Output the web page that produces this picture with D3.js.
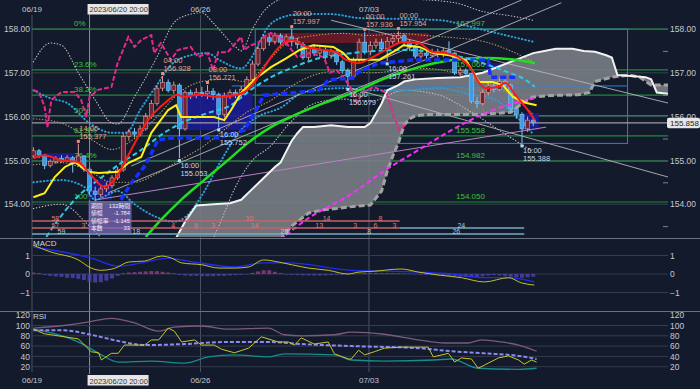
<!DOCTYPE html>
<html>
<head>
<meta charset="utf-8">
<script src="https://cdnjs.cloudflare.com/ajax/libs/d3/7.8.5/d3.min.js"></script>
<style>
  body { margin: 0; background: #131a2b; }
  svg { display: block; }
  text { font-family: "Liberation Sans", "Noto Sans CJK JP", sans-serif; }
</style>
</head>
<body>
<svg id="chart" width="700" height="389"></svg>
<script>
// ---- data: 4h candles, index 0 = 06/19 first bar ----
const candles = [
[155.10,155.30,155.05,155.22],[155.22,155.26,155.05,155.12],[155.12,155.15,154.80,154.88],[154.88,155.02,154.84,154.98],
[154.98,155.10,154.92,155.05],[155.05,155.12,154.95,155.00],[155.00,155.12,154.96,155.06],[155.06,155.10,154.72,154.92],
[154.92,155.38,154.88,155.10],[155.10,155.12,154.74,154.80],[154.80,154.84,154.20,154.30],[154.30,154.40,154.05,154.22],
[154.22,154.42,154.15,154.35],[154.35,154.50,154.28,154.42],[154.42,154.66,154.36,154.60],[154.60,154.85,154.55,154.78],
[154.78,155.62,154.74,155.55],[155.55,155.72,155.45,155.65],[155.65,155.74,155.52,155.60],[155.60,155.80,155.55,155.72],
[155.72,156.08,155.68,156.00],[156.00,156.38,155.95,156.30],[156.30,156.72,156.25,156.65],[156.65,156.93,156.58,156.78],
[156.78,156.85,156.55,156.60],[156.60,156.80,156.52,156.72],[156.72,156.76,155.05,155.72],[155.72,156.60,155.68,156.55],
[156.55,156.62,156.40,156.48],[156.48,156.65,156.42,156.55],[156.55,156.68,156.45,156.52],[156.52,156.72,156.40,156.58],
[156.58,156.65,156.38,156.50],[156.50,156.55,155.75,156.05],[156.05,156.55,155.98,156.48],[156.48,156.62,156.40,156.55],
[156.55,156.62,156.42,156.50],[156.50,156.70,156.45,156.62],[156.62,156.92,156.58,156.85],[156.85,157.28,156.80,157.20],
[157.20,157.62,157.15,157.55],[157.55,157.88,157.50,157.80],[157.80,157.88,157.62,157.72],[157.72,157.92,157.65,157.85],
[157.85,157.90,157.58,157.70],[157.70,157.88,157.62,157.82],[157.82,158.00,157.60,157.72],[157.72,157.80,157.55,157.65],
[157.65,157.70,157.30,157.35],[157.35,157.62,157.28,157.55],[157.55,157.65,157.38,157.45],[157.45,157.60,157.35,157.52],
[157.52,157.58,157.30,157.40],[157.40,157.55,157.32,157.48],[157.48,157.52,157.18,157.25],[157.25,157.30,156.98,157.05],
[157.05,157.10,156.68,156.92],[156.92,157.35,156.85,157.30],[157.30,157.78,157.25,157.70],[157.70,157.94,157.42,157.48],
[157.48,157.72,157.40,157.62],[157.62,157.78,157.55,157.70],[157.70,157.78,157.48,157.55],[157.55,157.82,157.26,157.72],
[157.72,157.85,157.65,157.78],[157.78,157.95,157.70,157.85],[157.85,157.90,157.62,157.70],[157.70,157.75,157.50,157.58],
[157.58,157.62,157.32,157.38],[157.38,157.55,157.30,157.45],[157.45,157.52,157.32,157.40],[157.40,157.55,157.35,157.48],
[157.48,157.55,157.35,157.42],[157.42,157.58,157.36,157.50],[157.50,157.72,157.38,157.45],[157.45,157.48,156.95,157.00],
[157.00,157.12,156.92,157.05],[157.05,157.10,156.90,156.98],[156.98,157.00,156.30,156.35],[156.35,156.45,156.20,156.30],
[156.30,156.62,156.25,156.55],[156.55,156.78,156.48,156.70],[156.70,156.78,156.55,156.62],[156.62,156.88,156.58,156.80],
[156.80,156.85,156.62,156.72],[156.72,156.75,156.12,156.18],[156.18,156.22,155.95,156.05],[156.05,156.10,155.39,155.72],
[155.72,156.00,155.65,155.92],[155.92,156.00,155.78,155.86]
];
const lastPrice = 155.858;

// [bar index, price]
const redLine = [[0,155.05],[2,155.12],[5,155.0],[8,154.96],[10,154.7],[12.6,154.4],[14.4,154.55],[17.4,155.24],[20.4,155.92],[23.3,156.3],[25.7,156.5],[26.8,156.45],[29.3,156.5],[32.9,156.45],[36.4,156.5],[38.7,156.68],[40.5,157.0],[42.3,157.36],[44.6,157.68],[46,157.75],[48.5,157.6],[52,157.52],[53.8,157.48],[55.6,157.3],[57.9,157.22],[60.4,157.36],[62.7,157.52],[65.7,157.7],[68.6,157.68],[71,157.48],[73.4,157.45],[75.7,157.36],[78.1,157.06],[79.2,156.8],[80.5,156.65],[82.8,156.68],[84,156.77],[85.8,156.5],[87.6,156.22],[89.3,155.92]];
const yellowLine = [[0,154.16],[2,154.25],[3.8,154.62],[5.6,154.85],[7.4,154.96],[9.8,154.74],[11.6,154.71],[15.1,154.74],[16.9,154.94],[19.2,155.08],[21,155.63],[24,156.15],[25.4,156.26],[26.3,155.99],[32.2,155.99],[34,155.92],[35.2,156.15],[37,156.54],[39.3,156.84],[42.3,157.13],[45,157.33],[47.4,157.52],[49.8,157.63],[53.4,157.59],[55.2,157.45],[56.3,157.3],[61.6,157.3],[64.6,157.52],[65.9,157.63],[68.7,157.59],[71.2,157.45],[74.1,157.4],[77,157.29],[78.4,157.0],[79.3,156.79],[81.8,156.79],[83.6,156.72],[85.4,156.45],[87.8,156.31],[89.6,156.26]];
const cyanDash = [[2.3,153.25],[4.4,153.64],[8.5,154.25],[11.5,154.55],[15.6,154.94],[19.2,155.24],[23.3,155.63],[26.3,155.85],[31,156.08],[35.2,156.26],[38.7,156.61],[42.3,156.9],[45.8,157.1],[49.7,157.29],[56.8,157.45],[65.7,157.52],[71.6,157.47],[78.2,157.29],[83.5,157.06],[87.6,156.84],[89.3,156.68]];
const blueDash = [[15.6,154.1],[17.4,154.48],[19.7,154.85],[21,155.16],[22.2,155.47],[24.5,155.51],[32.9,155.51],[37.5,155.69],[40,156.22],[41,156.49],[45.8,156.54],[50.8,156.6],[52.6,156.84],[56.8,156.88],[57.9,157.02],[61.5,157.22],[67.5,157.29],[81,157.29],[81.4,156.9],[86,156.9]];
const greenLine = [[20,153.25],[22.7,153.64],[26.3,154.1],[30.4,154.55],[34.6,155.0],[38.2,155.4],[42.3,155.76],[45.8,155.99],[50.8,156.26],[56.8,156.54],[62.7,156.88],[68.6,157.13],[74.6,157.29],[80.5,157.34],[86.3,157.29],[89.3,157.22]];
const magentaDash = [[40,152.95],[44.4,153.25],[48.5,153.64],[56.8,154.25],[62.7,154.78],[68.6,155.24],[74.6,155.7],[80.5,156.08],[86.3,156.33],[89.3,156.42]];
const chikou = [[0,156.6],[1,156.56],[2,156.22],[2.5,155.76],[3.2,156.38],[5,156.56],[7.3,156.56],[8.5,156.38],[9.4,155.99],[10,156.45],[11.5,156.61],[13.9,156.68],[15,157.22],[16.9,157.82],[18,157.59],[19.2,157.75],[21,157.86],[21.5,157.45],[22.7,157.68],[24.5,157.29],[25.7,157.52],[28,157.59],[29.3,157.36],[31,157.45],[32,157.06],[32.9,157.47],[34.6,157.47],[37,157.82],[37.5,157.52],[38.7,157.63],[40,157.68],[41,157.82],[42.3,157.91],[44.6,157.75],[46,157.52],[47,157.36],[49.2,157.45],[51.7,157.36],[52.8,157.0],[54,157.06],[55.3,156.88],[56.4,156.68],[57.6,156.33],[58.8,156.56],[60.6,156.68],[62.9,156.54],[64.2,155.99],[65.2,155.69],[66.5,155.85]];

// bollinger style bands
const whiteUp = [[0,157.25],[3,157.68],[5,157.63],[8,157.0],[11,156.38],[14,155.85],[15,155.83],[18,156.45],[22,157.36],[25,158.14],[27,158.3],[30,158.37],[32,158.14],[36,157.59],[37,157.5],[39,158.0],[41,158.4],[45,158.7],[55,158.75],[65,158.7],[75,158.6],[80,158.4],[85,158.3],[89,158.2]];
const whiteLow = [[0,153.9],[5,154.0],[10,153.5],[14,153.0],[20,152.6],[30,152.8],[33,153.5],[36,154.4],[39,155.0],[42,155.3],[46,155.9],[50,156.3],[55,156.4],[60,156.35],[66,156.6],[72,156.5],[78,156.1],[84,155.6],[89,155.2]];
const cyanUp = [[0,156.6],[3,156.42],[6,156.31],[10,155.85],[14,155.63],[16.5,155.63],[19,156.15],[22,156.72],[24.5,157.18],[28,157.4],[31,157.45],[33,157.3],[37,157.1],[39.6,157.52],[41.4,157.98],[44,158.25],[47.6,158.34],[53,158.34],[58,158.25],[65.4,158.23],[72.5,158.2],[77.8,158.05],[83,157.89],[89.3,157.7]];
const cyanLow = [[0,154.5],[5,154.55],[9,154.4],[11,154.1],[13,154.2],[15,154.3],[18,154.0],[22,153.7],[25,153.6],[27,153.7],[30,154.2],[33,154.9],[37,155.7],[40,156.0],[44,156.2],[48,156.55],[55,156.65],[60,156.6],[66,156.6],[72,156.65],[78,156.5],[82,156.4],[86,156.0],[89,155.6]];
const khakiUp = [[0,155.95],[5,155.85],[10,155.5],[14,155.25],[18,155.5],[22,156.0],[26,156.55],[30,156.8],[34,156.85],[38,156.8],[42,157.3],[46,157.75],[50,157.85],[55,157.9],[60,157.85],[65,157.9],[70,157.85],[75,157.8],[80,157.72],[85,157.5],[89,157.25]];
const khakiLow = [[0,154.9],[5,154.95],[10,154.75],[14,154.5],[18,154.5],[22,154.7],[26,155.0],[30,155.3],[34,155.7],[38,156.1],[42,156.35],[46,156.7],[50,156.95],[55,157.05],[60,157.0],[65,157.05],[70,157.1],[75,157.0],[80,156.8],[85,156.5],[89,156.05]];

// ichimoku cloud (shifted 26 bars forward)
const spanA = [[24,152.9],[27,153.6],[29,153.97],[32,154.0],[35,154.02],[37,154.1],[39,154.35],[41,154.6],[43,154.85],[44,154.95],[45,155.2],[46,155.45],[47,155.62],[48,155.76],[50,155.76],[53,155.8],[56,155.76],[59,155.76],[60,155.85],[62,156.3],[63,156.6],[65,156.72],[66,156.8],[68,156.85],[72,156.88],[76,156.9],[80,157.0],[83,157.15],[86,157.3],[89,157.45],[91,157.5],[93,157.55],[96,157.55],[98,157.5],[100,157.48],[102,157.4],[103,157.35],[104,156.95],[107,156.92],[109,156.9],[110,156.85],[111,156.55],[113,156.52]];
const spanB = [[24,152.4],[35,152.8],[40,153.0],[44,153.2],[46,153.5],[49,153.8],[52,153.88],[54,153.9],[57,153.95],[60,153.98],[62,154.3],[63,154.75],[64,155.1],[65,155.4],[66,155.8],[67,155.95],[68,156.02],[70,156.05],[75,156.05],[80,156.05],[85,156.1],[87,156.3],[89,156.45],[92,156.48],[97,156.5],[99,156.55],[100,156.8],[103,156.9],[106,156.95],[108,156.9],[110,156.72],[113,156.72]];

// trend lines: [[bar, price], [bar, price]]
const trendLines = [
  [[13.3,154.26],[94,158.6]],
  [[17.4,154.87],[86.9,158.66]],
  [[53,158.2],[113,156.31]],
  [[56.6,156.65],[113,154.62]]
];
const lavenderLine = [[11.2,154.1],[91.3,155.76]];

// fibonacci retracement
const fibHigh = 157.997, fibLow = 154.050;
const fibLevels = [0, 0.236, 0.382, 0.5, 0.618, 0.764, 1];
const fibNames = ["0%", "23.6%", "38.2%", "50%", "61.8%", "76.4%", "100%"];
const fibValues = ["157.997", "157.066", "156.489", "156.024", "155.558", "154.982", "154.050"];

// marked highs / lows: [bar, price, time, kind]
const extremes = [
  [8,155.377,"14:00","h"],[23,156.928,"04:00","h"],[31,156.721,"08:00","h"],[46,157.997,"20:00","h"],
  [59,157.936,"00:00","h"],[65,157.954,"00:00","h"],[26,155.053,"16:00","l"],[33,155.752,"16:00","l"],
  [56,156.679,"16:00","l"],[63,157.261,"16:00","l"],[87,155.388,"16:00","l"]
];

// shaded zones: [bar from, bar to, price top, price bottom]
const navyZones = [[26.2,39,156.54,155.69],[9.8,14,154.55,154.1],[2,7.3,155.17,155.0],[80.6,86.5,157.22,156.31],[86.5,90,156.08,155.69]];
const redZone = [41.3,70.4,157.91,157.68];
const boxRange = [39.5,105.8,157.997,155.388];
const blueLevel = [35.3,105.8,156.70];

// bar count rows at the bottom of the price panel: [bar, row, text]
const countLabels = [
  [3.9,0,"58"],[27.3,0,"9"],[38.5,0,"10"],[52.2,0,"14"],[61.8,0,"8"],
  [3.9,1,"57"],[8.9,1,"3"],[24.9,1,"4"],[29,1,"6"],[32,1,"3"],[39.4,1,"14"],[50.9,1,"13"],[57.3,1,"3"],[60.9,1,"6"],[64.3,1,"3"],[76.2,1,"24"],
  [5,2,"59"],[18.3,2,"18"],[44.7,2,"25"],[59.8,2,"8"],[75.3,2,"26"]
];

// MACD
const macdLine = [[0,1.55],[3,1.2],[8,0.76],[10.3,0.32],[12,0.2],[14.4,0.3],[17,0.65],[19.8,0.7],[22.8,0.97],[24.6,0.86],[26.4,0.6],[30,0.5],[33,0.32],[35.8,0.32],[38.3,0.38],[41,0.76],[43.6,0.65],[46,0.5],[49,0.32],[52.5,0.2],[56,0.0],[57.9,0.1],[60.7,0.15],[65.5,0.27],[68.6,0.1],[72,-0.05],[76.2,-0.2],[80.3,-0.43],[84.6,-0.2],[86.9,-0.48],[89.2,-0.6]];
const signalLine = [[0,1.46],[10.3,0.86],[15.1,0.43],[19.2,0.6],[24,0.86],[27.6,0.7],[35.8,0.38],[41,0.6],[45.4,0.6],[56.6,0.2],[62.5,0.16],[68.6,0.1],[74.4,0],[80.3,-0.2],[84.6,-0.2],[89.2,-0.43]];
const macdHist = [0.08,0.05,
  -0.06,-0.1,-0.13,-0.16,-0.2,-0.22,-0.26,-0.32,-0.42,-0.46,-0.44,-0.36,-0.24,-0.1,
  0.04,0.08,0.1,0.12,0.14,0.16,0.15,0.12,0.08,0.04,
  -0.05,-0.08,-0.1,-0.1,-0.12,-0.12,-0.12,-0.1,-0.1,-0.08,-0.06,-0.04,-0.02,
  0.06,0.14,0.2,0.2,0.12,0.05,
  -0.03,-0.05,-0.06,-0.07,-0.07,-0.08,-0.08,-0.07,-0.06,-0.05,-0.04,-0.03,-0.02,
  0.03,0.05,0.06,0.06,0.05,0.05,0.04,0.04,0.03,0.02,
  -0.02,-0.04,-0.05,-0.06,-0.08,-0.1,-0.12,-0.14,-0.15,-0.16,-0.18,-0.16,-0.12,-0.08,-0.06,-0.08,-0.12,-0.15,-0.18,-0.2,-0.18,-0.15];

// RSI panel
const rsiPurple = [[0,95],[6.2,101],[9.8,107],[13.9,114],[18,105],[22.3,89],[25.1,97],[29.9,99],[34.7,93],[41.8,95],[44.7,82],[47.7,80],[53.6,82],[56.6,87],[62.5,83],[68.6,72],[73.2,66],[77.4,66],[79.8,72],[83.3,68],[86.4,62],[89.6,50]];
const rsiAvg = [[0,91],[5,91],[10.3,82],[15.1,70],[19.8,62],[26.9,64],[34.7,68],[41.8,68],[47.7,64],[56.6,60],[68.6,56],[74.4,50],[80.3,46],[86.4,41],[89.6,35]];
const rsiYellow = [[0,93],[1.9,84],[8,74],[9.1,62],[10.3,49],[11.6,47],[12.1,33],[13.9,46],[15.1,46],[16.2,62],[19.8,62],[21,72],[22.3,72],[24,95],[25.1,89],[26.4,68],[28.7,72],[29.9,62],[32.2,62],[33.5,54],[35.8,47],[38.3,56],[40.6,78],[43.6,68],[45.4,68],[46.5,62],[47.7,76],[50,64],[52.5,68],[53.6,45],[56.1,35],[56.6,35],[57.9,52],[59,43],[60.7,49],[62.5,56],[65.5,58],[68.6,58],[70.3,58],[71.2,39],[73.9,46],[75,29],[76.2,37],[78,35],[79.2,17],[80.3,23],[82.8,37],[84.6,41],[86.4,33],[87.4,25],[88.7,33],[89.6,29]];
const rsiTeal = [[0,93],[6.2,76],[9.1,62],[12.1,43],[15.1,29],[21,31],[26.9,27],[31.2,39],[35.8,43],[41.8,39],[44.7,45],[53.6,43],[56.6,33],[62.5,31],[71.4,33],[74.4,35],[79.2,17],[86.4,15],[89.6,17]];

// time axis
const dateTicks = [[-0.25,"06/19"],[29.75,"06/26"],[59.75,"07/03"]];
const crossBar = 10;
const crossLabel = "2023/06/20 20:00";
const measure = [["期間","132時間"],["値幅","-1.784"],["値幅率","-1.145"],["本数","33"]];

// ---- drawing ----
const svg = d3.select('#chart');
svg.append('rect').attr('width',700).attr('height',389).attr('fill','#131a2b');

const sx = d3.scaleLinear().domain([-0.25,113]).range([32,668]);
const sy = d3.scaleLinear().domain([153,158]).range([248,29]);
const sm = d3.scaleLinear().domain([-1,1]).range([292.5,255.5]);
const sr = d3.scaleLinear().domain([20,120]).range([366.7,315.2]);

const defs = svg.append('defs');
defs.append('clipPath').attr('id','clipMain').append('rect').attr('x',32).attr('y',0).attr('width',636).attr('height',237);
defs.append('clipPath').attr('id','clipMacd').append('rect').attr('x',32).attr('y',239).attr('width',636).attr('height',72);
defs.append('clipPath').attr('id','clipRsi').append('rect').attr('x',32).attr('y',312).attr('width',636).attr('height',60);

const grid = svg.append('g');
// vertical date grid
grid.selectAll('line.vd').data(dateTicks).join('line')
  .attr('x1', d => sx(d[0])).attr('x2', d => sx(d[0]))
  .attr('y1', 15).attr('y2', 372).attr('stroke', '#4a5263').attr('stroke-width', 1);
grid.append('line').attr('x1', sx(crossBar)).attr('x2', sx(crossBar)).attr('y1', 14).attr('y2', 374)
  .attr('stroke', '#8c919b').attr('stroke-width', 1);
// panel separators
[238.5, 311.5].forEach(v => grid.append('line').attr('x1', 0).attr('x2', 700).attr('y1', v).attr('y2', v)
  .attr('stroke', '#6a7282').attr('stroke-width', 1));

const main = svg.append('g').attr('clip-path', 'url(#clipMain)');

// integer price grid
main.selectAll('line.pg').data([154,155,156,157,158]).join('line')
  .attr('x1', 32).attr('x2', 668).attr('y1', d => sy(d)).attr('y2', d => sy(d))
  .attr('stroke', '#3a4252').attr('stroke-width', 1);

// fibonacci lines + labels
const fibPrice = l => fibHigh - l * (fibHigh - fibLow);
main.selectAll('line.fib').data(fibLevels).join('line')
  .attr('x1', 32).attr('x2', 668).attr('y1', d => sy(fibPrice(d))).attr('y2', d => sy(fibPrice(d)))
  .attr('stroke', '#1f8a3a').attr('stroke-width', 1.2);
main.selectAll('text.fibp').data(fibLevels).join('text')
  .attr('x', 74).attr('y', d => sy(fibPrice(d)) - 3)
  .attr('fill', '#3ec23e').attr('font-size', 8).text((d, i) => fibNames[i]);
main.selectAll('text.fibv').data(fibLevels).join('text')
  .attr('x', 456).attr('y', d => sy(fibPrice(d)) - 3)
  .attr('fill', '#3ec23e').attr('font-size', 8).text((d, i) => fibValues[i]);

// shaded zones
main.selectAll('rect.navy').data(navyZones).join('rect')
  .attr('x', d => sx(d[0])).attr('width', d => sx(d[1]) - sx(d[0]))
  .attr('y', d => sy(d[2])).attr('height', d => sy(d[3]) - sy(d[2]))
  .attr('fill', '#1c1c92').attr('opacity', 0.9);
main.append('rect').attr('x', sx(redZone[0])).attr('width', sx(redZone[1]) - sx(redZone[0]))
  .attr('y', sy(redZone[2])).attr('height', sy(redZone[3]) - sy(redZone[2]))
  .attr('fill', '#6e1a26').attr('opacity', 0.9);

// ichimoku cloud
const lineL = d3.line().x(d => sx(d[0])).y(d => sy(d[1]));
const cloudPts = spanA.concat(spanB.slice().reverse());
main.append('path').attr('d', lineL(cloudPts) + 'Z').attr('fill', '#777c83').attr('opacity', 0.92);

// horizontal levels and box
main.append('line').attr('x1', sx(blueLevel[0])).attr('x2', sx(blueLevel[1]))
  .attr('y1', sy(blueLevel[2])).attr('y2', sy(blueLevel[2])).attr('stroke', '#2a82d8').attr('stroke-width', 1);
main.append('rect').attr('x', sx(boxRange[0])).attr('width', sx(boxRange[1]) - sx(boxRange[0]))
  .attr('y', sy(boxRange[2])).attr('height', sy(boxRange[3]) - sy(boxRange[2]))
  .attr('fill', 'none').attr('stroke', '#2e86ad').attr('stroke-width', 1);
main.append('line').attr('x1', 32).attr('x2', 668).attr('y1', sy(lastPrice)).attr('y2', sy(lastPrice))
  .attr('stroke', '#9a9ea6').attr('stroke-width', 1.2);

// bands (dotted)
const smooth = d3.line().x(d => sx(d[0])).y(d => sy(d[1])).curve(d3.curveMonotoneX);
const dotted = (data, color, w, dash) => main.append('path').attr('d', smooth(data)).attr('fill', 'none')
  .attr('stroke', color).attr('stroke-width', w).attr('stroke-dasharray', dash).attr('stroke-linecap', 'round');
dotted(whiteUp, '#c9bfc6', 1.1, '0.5,2.5');
dotted(whiteLow, '#c9bfc6', 1.1, '0.5,2.5');
dotted(khakiUp, '#b9a25e', 1.1, '0.5,2.5');
dotted(khakiLow, '#b9a25e', 1.1, '0.5,2.5');
dotted(cyanUp, '#2c9fd2', 2, '0.5,3');
dotted(cyanLow, '#2c9fd2', 2, '0.5,3');

// trend lines
main.selectAll('line.tr').data(trendLines).join('line')
  .attr('x1', d => sx(d[0][0])).attr('y1', d => sy(d[0][1]))
  .attr('x2', d => sx(d[1][0])).attr('y2', d => sy(d[1][1]))
  .attr('stroke', '#b8b2bc').attr('stroke-width', 0.9);
main.append('line').attr('x1', sx(lavenderLine[0][0])).attr('y1', sy(lavenderLine[0][1]))
  .attr('x2', sx(lavenderLine[1][0])).attr('y2', sy(lavenderLine[1][1]))
  .attr('stroke', '#b884c0').attr('stroke-width', 1);

// cloud edges
main.append('path').attr('d', lineL(spanB)).attr('fill', 'none').attr('stroke', '#a3a3a3')
  .attr('stroke-width', 3).attr('stroke-dasharray', '6,3');
main.append('path').attr('d', lineL(spanA)).attr('fill', 'none').attr('stroke', '#f2f2f2').attr('stroke-width', 2);

// candles
const up = d => d[3] >= d[0];
const cg = main.append('g');
cg.selectAll('line').data(candles).join('line')
  .attr('x1', (d, i) => sx(i)).attr('x2', (d, i) => sx(i))
  .attr('y1', d => sy(d[1])).attr('y2', d => sy(d[2]))
  .attr('stroke', d => up(d) ? '#e29c9c' : '#86c6f2').attr('stroke-width', 1);
cg.selectAll('rect').data(candles).join('rect')
  .attr('x', (d, i) => sx(i) - 2).attr('width', 4)
  .attr('y', d => sy(Math.max(d[0], d[3])))
  .attr('height', d => Math.max(1, Math.abs(sy(d[0]) - sy(d[3]))))
  .attr('fill', d => up(d) ? '#6e2630' : '#3c9ce6')
  .attr('stroke', d => up(d) ? '#e29c9c' : '#86c6f2').attr('stroke-width', 0.6);

// moving average style lines
const drawLine = (data, color, w, dash, curve) => main.append('path')
  .attr('d', d3.line().x(d => sx(d[0])).y(d => sy(d[1])).curve(curve || d3.curveMonotoneX)(data))
  .attr('fill', 'none').attr('stroke', color).attr('stroke-width', w).attr('stroke-dasharray', dash || null);
drawLine(greenLine, '#1ee01e', 2.5);
drawLine(magentaDash, '#ff2cff', 2, '5,3');
drawLine(chikou, '#e6288c', 2, '5,2', d3.curveLinear);
drawLine(blueDash, '#1630ff', 3.5, '6,3', d3.curveLinear);
drawLine(cyanDash, '#2ccbe2', 2, '5,3');
drawLine(yellowLine, '#fff012', 2, null, d3.curveLinear);
drawLine(redLine, '#ff1a1a', 2);

// high / low markers
const ex = main.append('g');
ex.selectAll('rect').data(extremes).join('rect')
  .attr('x', d => sx(d[0]) - 1.5).attr('width', 3).attr('height', 3)
  .attr('y', d => d[3] === 'h' ? sy(d[1]) - 4 : sy(d[1]) + 1)
  .attr('fill', d => d[3] === 'h' ? '#f08c84' : '#a8e4f2');
ex.selectAll('text.t').data(extremes).join('text')
  .attr('x', d => sx(d[0]) + 1).attr('y', d => d[3] === 'h' ? sy(d[1]) - 13 : sy(d[1]) + 10)
  .attr('font-size', 7.5).attr('fill', d => d[3] === 'h' ? '#e3a090' : '#c8d6e6').text(d => d[2]);
ex.selectAll('text.p').data(extremes).join('text')
  .attr('x', d => sx(d[0]) + 1).attr('y', d => d[3] === 'h' ? sy(d[1]) - 5 : sy(d[1]) + 18)
  .attr('font-size', 7.5).attr('fill', d => d[3] === 'h' ? '#e3a090' : '#c8d6e6').text(d => d[1].toFixed(3));

// bar count rows
const rowY = [221, 228, 234];
const cnt = svg.append('g');
cnt.append('line').attr('x1', 32).attr('x2', sx(65.2)).attr('y1', rowY[0]).attr('y2', rowY[0]).attr('stroke', '#c46464').attr('stroke-width', 1.5);
cnt.append('line').attr('x1', 32).attr('x2', sx(65.2)).attr('y1', rowY[1]).attr('y2', rowY[1]).attr('stroke', '#c46464').attr('stroke-width', 1.5);
cnt.append('line').attr('x1', sx(65.2)).attr('x2', sx(87.4)).attr('y1', rowY[1]).attr('y2', rowY[1]).attr('stroke', '#7aaac4').attr('stroke-width', 1.5);
cnt.append('line').attr('x1', 32).attr('x2', sx(87.4)).attr('y1', rowY[2]).attr('y2', rowY[2]).attr('stroke', '#7aaac4').attr('stroke-width', 1.5);
cnt.selectAll('text').data(countLabels).join('text')
  .attr('x', d => sx(d[0])).attr('y', d => rowY[d[1]] - 0.5).attr('text-anchor', 'middle')
  .attr('font-size', 7).attr('fill', d => (d[1] === 2 || d[0] > 65) ? '#a8cce0' : '#e07a7a').text(d => d[2]);

// measurement box
const mb = svg.append('g');
mb.append('rect').attr('x', sx(crossBar) - 1).attr('y', 201).attr('width', 43).attr('height', 32)
  .attr('fill', '#7a6abc').attr('opacity', 0.75);
mb.selectAll('text.k').data(measure).join('text').attr('x', sx(crossBar) + 1.5).attr('y', (d, i) => 207.5 + i * 7.5)
  .attr('font-size', 5.8).attr('fill', '#f0f0ff').text(d => d[0]);
mb.selectAll('text.v').data(measure).join('text').attr('x', sx(crossBar) + 40.5).attr('y', (d, i) => 207.5 + i * 7.5)
  .attr('text-anchor', 'end').attr('font-size', 5.8).attr('fill', '#f0f0ff').text(d => d[1]);

// price axes
const styleAxis = g => { g.select('.domain').remove(); g.selectAll('text').attr('fill', '#c3c9d3').attr('font-size', 8.5); };
svg.append('g').attr('transform', 'translate(668,0)')
  .call(d3.axisRight(sy).tickValues([154,155,156,157,158]).tickFormat(d3.format('.2f')).tickSize(0).tickPadding(2))
  .call(styleAxis);
svg.append('g').attr('transform', 'translate(31,0)')
  .call(d3.axisLeft(sy).tickValues([154,155,156,157,158]).tickFormat(d3.format('.2f')).tickSize(0).tickPadding(1))
  .call(styleAxis);
svg.append('g').attr('transform', 'translate(668,0)')
  .call(d3.axisRight(sy).tickValues([153.5,154.5,155.5,156.5,157.5]).tickFormat('').tickSizeInner(-5))
  .call(g => { g.select('.domain').remove(); g.selectAll('line').attr('stroke', '#7a8292'); });

// last price tag
svg.append('rect').attr('x', 667).attr('y', sy(lastPrice) - 5).attr('width', 33).attr('height', 10.5).attr('rx', 2).attr('fill', '#e6e6e6');
svg.append('text').attr('x', 670).attr('y', sy(lastPrice) + 3.2).attr('font-size', 8).attr('fill', '#222').text(lastPrice.toFixed(3));

// ---- MACD panel ----
const macd = svg.append('g').attr('clip-path', 'url(#clipMacd)');
macd.selectAll('line.g').data([-1,0,1]).join('line')
  .attr('x1', 32).attr('x2', 668).attr('y1', d => sm(d)).attr('y2', d => sm(d))
  .attr('stroke', '#343c4d').attr('stroke-width', 1);
macd.selectAll('rect').data(macdHist).join('rect')
  .attr('x', (d, i) => sx(i) - 2).attr('width', 4)
  .attr('y', d => sm(Math.max(0, d))).attr('height', d => Math.abs(sm(d) - sm(0)))
  .attr('fill', d => d >= 0 ? '#8e3a86' : '#4e42aa').attr('opacity', 0.85);
const mline = d3.line().x(d => sx(d[0])).y(d => sm(d[1])).curve(d3.curveMonotoneX);
macd.append('path').attr('d', mline(signalLine)).attr('fill', 'none').attr('stroke', '#1e2ef0').attr('stroke-width', 1.3);
macd.append('path').attr('d', mline(macdLine)).attr('fill', 'none').attr('stroke', '#c6bf22').attr('stroke-width', 1);
svg.append('text').attr('x', 33).attr('y', 246).attr('font-size', 8).attr('fill', '#d0d4dc').text('MACD');
svg.append('g').attr('transform', 'translate(668,0)')
  .call(d3.axisRight(sm).tickValues([-1,0,1]).tickFormat(d3.format('d')).tickSize(0).tickPadding(2)).call(styleAxis);
svg.append('g').attr('transform', 'translate(31,0)')
  .call(d3.axisLeft(sm).tickValues([-1,0,1]).tickFormat(d3.format('d')).tickSize(0).tickPadding(1)).call(styleAxis);

// ---- RSI panel ----
const rsi = svg.append('g').attr('clip-path', 'url(#clipRsi)');
rsi.selectAll('line.g').data([20,40,60,80,100]).join('line')
  .attr('x1', 32).attr('x2', 668).attr('y1', d => sr(d)).attr('y2', d => sr(d))
  .attr('stroke', '#343c4d').attr('stroke-width', 1);
const rline = curve => d3.line().x(d => sx(d[0])).y(d => sr(d[1])).curve(curve);
rsi.append('path').attr('d', rline(d3.curveMonotoneX)(rsiPurple)).attr('fill', 'none').attr('stroke', '#7c5a7e').attr('stroke-width', 1.3);
rsi.append('path').attr('d', rline(d3.curveMonotoneX)(rsiTeal)).attr('fill', 'none').attr('stroke', '#168c8c').attr('stroke-width', 1.3);
rsi.append('path').attr('d', rline(d3.curveMonotoneX)(rsiAvg)).attr('fill', 'none').attr('stroke', '#8a8af2').attr('stroke-width', 2).attr('stroke-dasharray', '4,2');
rsi.append('path').attr('d', rline(d3.curveLinear)(rsiYellow)).attr('fill', 'none').attr('stroke', '#c6c62a').attr('stroke-width', 1);
svg.append('text').attr('x', 33).attr('y', 319).attr('font-size', 8).attr('fill', '#d0d4dc').text('RSI');
svg.append('g').attr('transform', 'translate(668,0)')
  .call(d3.axisRight(sr).tickValues([20,40,60,80,100,120]).tickFormat(d3.format('d')).tickSize(0).tickPadding(2)).call(styleAxis);
svg.append('g').attr('transform', 'translate(31,0)')
  .call(d3.axisLeft(sr).tickValues([20,40,60,80,100,120]).tickFormat(d3.format('d')).tickSize(0).tickPadding(1)).call(styleAxis);

// ---- date labels ----
[11.5, 383].forEach(ty => {
  svg.selectAll(null).data(dateTicks).join('text')
    .attr('x', d => sx(d[0])).attr('y', ty).attr('text-anchor', 'middle')
    .attr('font-size', 8).attr('fill', '#c3c9d3').text(d => d[1]);
});
[[4, 12], [375, 383.5]].forEach(([by, ty]) => {
  svg.append('rect').attr('x', sx(crossBar) - 2).attr('y', by).attr('width', 61).attr('height', 10.5).attr('fill', '#e6e6e6');
  svg.append('text').attr('x', sx(crossBar)).attr('y', ty).attr('font-size', 7.5).attr('fill', '#333').text(crossLabel);
});
</script>
</body>
</html>
